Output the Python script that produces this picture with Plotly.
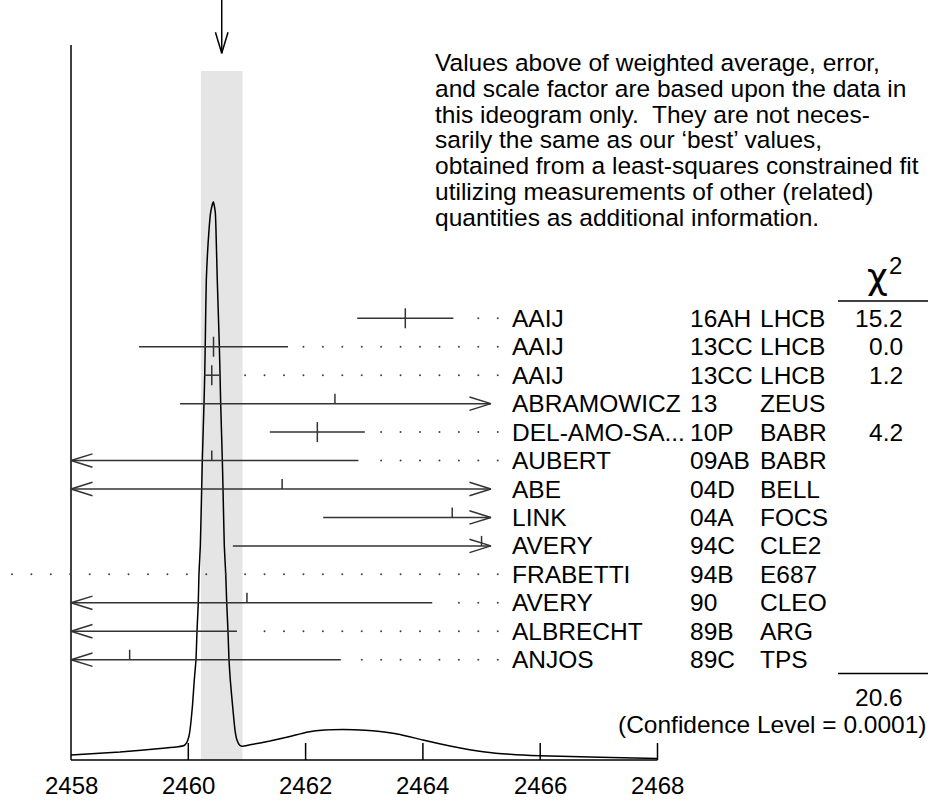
import plotly.graph_objects as go

# ---------------- data ----------------
names = ["AAIJ", "AAIJ", "AAIJ", "ABRAMOWICZ", "DEL-AMO-SA...", "AUBERT", "ABE",
         "LINK", "AVERY", "FRABETTI", "AVERY", "ALBRECHT", "ANJOS"]
refs = ["16AH", "13CC", "13CC", "13", "10P", "09AB", "04D",
        "04A", "94C", "94B", "90", "89B", "89C"]
expts = ["LHCB", "LHCB", "LHCB", "ZEUS", "BABR", "BABR", "BELL",
         "FOCS", "CLE2", "E687", "CLEO", "ARG", "TPS"]
chi2 = ["15.2", "0.0", "1.2", "", "4.2", "", "", "", "", "", "", "", ""]
values = [2463.7, 2460.43, 2460.40, 2462.5, 2462.2, 2460.4, 2461.6,
          2464.5, 2465.0, 2453.0, 2461.0, 2455.0, 2459.0]
err_minus = [0.82, 1.27, 0.13, 2.64, 0.81, 2.5, 3.9, 2.2, 4.24, 3.6, 3.16, 5.83, 3.6]
err_plus = [0.82, 1.27, 0.13, 2.73, 0.81, 2.5, 3.9, 2.2, 4.24, 3.6, 3.16, 5.83, 3.6]
chi2_total = "20.6"
conf_level = "(Confidence Level = 0.0001)"
avg = 2460.57
avg_err = 0.355

x_ticks = [2458, 2460, 2462, 2464, 2466, 2468]

# ideogram curve (relative height, peak = 1)
curve_x = [2458.000, 2458.835, 2459.569, 2459.824, 2459.927, 2459.978, 2460.012, 2460.029,
           2460.072, 2460.102, 2460.131, 2460.148, 2460.170, 2460.182, 2460.205, 2460.228,
           2460.239, 2460.268, 2460.280, 2460.290, 2460.307, 2460.353, 2460.382, 2460.426,
           2460.460, 2460.472, 2460.494, 2460.529, 2460.541, 2460.552, 2460.580, 2460.592,
           2460.614, 2460.638, 2460.655, 2460.677, 2460.694, 2460.716, 2460.754, 2460.796,
           2460.830, 2460.873, 2460.916, 2461.052, 2461.393, 2461.734, 2462.041, 2462.331,
           2462.638, 2463.013, 2463.269, 2463.610, 2464.002, 2464.462, 2465.059, 2465.485,
           2465.997, 2467.020, 2468.000]
curve_y = [0.0090, 0.0143, 0.0210, 0.0236, 0.0260, 0.0322, 0.0430, 0.0537,
           0.0985, 0.1433, 0.1791, 0.2298, 0.2812, 0.3332, 0.3833, 0.4854,
           0.5373, 0.6394, 0.6896, 0.7523, 0.8598, 0.9493, 0.9815, 1.0000,
           0.9815, 0.9493, 0.8598, 0.7421, 0.6908, 0.6394, 0.5373, 0.4854,
           0.3833, 0.3332, 0.2812, 0.2298, 0.1791, 0.1433, 0.0985, 0.0537,
           0.0358, 0.0269, 0.0245, 0.0272, 0.0340, 0.0421, 0.0502, 0.0537,
           0.0546, 0.0534, 0.0510, 0.0457, 0.0358, 0.0251, 0.0143, 0.0102,
           0.0075, 0.0048, 0.0027]

note = ["Values above of weighted average, error,",
        "and scale factor are based upon the data in",
        "this ideogram only.  They are not neces-",
        "sarily the same as our \u2018best\u2019 values,",
        "obtained from a least-squares constrained fit",
        "utilizing measurements of other (related)",
        "quantities as additional information."]

# ---------------- layout constants ----------------
W, H = 930, 800
PX_PER_X = 58.65
X0_PX = 71.0
x_range = [2458 - X0_PX / PX_PER_X, 2458 + (W - X0_PX) / PX_PER_X]
BASE_PX, PEAK_PX = 760.0, 201.7
y_scale = BASE_PX - PEAK_PX
y_range = [-(H - BASE_PX) / y_scale, BASE_PX / y_scale]
ROW0_PX, ROW_PX = 318.3, 28.45
y2_range = [(H - ROW0_PX) / ROW_PX, -ROW0_PX / ROW_PX]

x_lo, x_hi = 2458.0, 2465.16
dot_last, dot_step = 2465.276, 0.3313
dot_gap = 0.17
arrow_len, arrow_half = 21.5 / PX_PER_X, 6.7 / ROW_PX
tick_half = 10.0 / ROW_PX

FONT = "Liberation Sans, Arial, Helvetica, sans-serif"
INK = "black"
BAR = "#333333"
FS = 24.5

fig = go.Figure()

# band for weighted average
fig.add_shape(type="rect", xref="x", yref="y", x0=avg - avg_err, x1=avg + avg_err,
              y0=0, y1=(BASE_PX - 71) / y_scale, fillcolor="#e5e5e5",
              line=dict(width=0), layer="below")

# ideogram curve
fig.add_trace(go.Scatter(x=curve_x, y=curve_y, mode="lines", yaxis="y",
                         line=dict(color=INK, width=1.5, shape="spline", smoothing=0.5),
                         hoverinfo="skip"))

# axes (drawn as lines)
ax_x = [x_lo, x_lo, None, x_ticks[0], x_ticks[-1]]
ax_y = [(BASE_PX - 45) / y_scale, 0, None, 0, 0]
tick_h = 17.0 / y_scale
for t in x_ticks[1:]:
    ax_x += [None, t, t]
    ax_y += [None, 0, tick_h]
fig.add_trace(go.Scatter(x=ax_x, y=ax_y, mode="lines", yaxis="y",
                         line=dict(color=INK, width=1.5), hoverinfo="skip"))

# top arrow marking the average
top = BASE_PX / y_scale
tip = (BASE_PX - 53.3) / y_scale
arm = (BASE_PX - 32.3) / y_scale
ah = 6.3 / PX_PER_X
fig.add_trace(go.Scatter(x=[avg, avg, None, avg - ah, avg, avg + ah],
                         y=[top, tip, None, arm, tip, arm], mode="lines", yaxis="y",
                         line=dict(color=INK, width=1.5), hoverinfo="skip"))

# measurements
bx, by, dx, dy = [], [], [], []
for i, (v, em, ep) in enumerate(zip(values, err_minus, err_plus)):
    lo, hi = v - em, v + ep
    a, b = max(lo, x_lo), min(hi, x_hi)
    line_end = -1e9
    if a < b:
        line_end = b
        bx += [a, b, None]
        by += [i, i, None]
        la, ra = lo < x_lo, hi > x_hi
        if la:
            bx += [x_lo + arrow_len, x_lo, x_lo + arrow_len, None]
            by += [i - arrow_half, i, i + arrow_half, None]
        if ra:
            bx += [x_hi - arrow_len, x_hi, x_hi - arrow_len, None]
            by += [i - arrow_half, i, i + arrow_half, None]
        if x_lo <= v <= x_hi:
            bx += [v, v, None]
            by += [i - tick_half, i if (la or ra) else i + tick_half, None]
    k = 0
    while True:
        xd = dot_last - k * dot_step
        if xd < x_range[0] or xd <= line_end + dot_gap:
            break
        dx.append(xd)
        dy.append(i)
        k += 1

fig.add_trace(go.Scatter(x=bx, y=by, mode="lines", yaxis="y2",
                         line=dict(color=BAR, width=1.5), hoverinfo="skip"))
fig.add_trace(go.Scatter(x=dx, y=dy, mode="markers", yaxis="y2",
                         marker=dict(color="#444444", size=2, line=dict(width=0)),
                         hoverinfo="skip"))


def txt(x, y, text, xanchor="left", xref="paper", yref="paper", size=FS, family=FONT):
    return dict(x=x, xref=xref, y=y, yref=yref, text=text, xanchor=xanchor,
                yanchor="middle", showarrow=False,
                font=dict(family=family, size=size, color=INK))


ann = []
for i in range(len(names)):
    ann.append(txt(509.5 / W, i, names[i], yref="y2"))
    ann.append(txt(688 / W, i, refs[i], yref="y2"))
    ann.append(txt(758 / W, i, expts[i], yref="y2"))
    if chi2[i]:
        ann.append(txt(905 / W, i, chi2[i], xanchor="right", yref="y2"))

# chi2 header and sum
ann.append(txt(877 / W, 1 - 277 / H, "\u03c7", xanchor="center", size=36,
               family="DejaVu Sans, sans-serif"))
ann.append(txt(895 / W, 1 - 265 / H, "2", xanchor="center", size=24))
fig.add_shape(type="line", xref="paper", yref="paper", x0=838 / W, x1=928 / W,
              y0=1 - 301 / H, y1=1 - 301 / H, line=dict(color=INK, width=1.3))
fig.add_shape(type="line", xref="paper", yref="paper", x0=838 / W, x1=928 / W,
              y0=1 - 673.5 / H, y1=1 - 673.5 / H, line=dict(color=INK, width=1.3))
ann.append(txt(905 / W, 1 - 697 / H, chi2_total, xanchor="right"))
ann.append(txt(929 / W, 1 - 724 / H, conf_level, xanchor="right"))

# note text
for j, line in enumerate(note):
    ann.append(txt(433 / W, 1 - (62.5 + 25.8 * j) / H, line.replace("  ", "&nbsp; ")))

# x tick labels
for t in x_ticks:
    ann.append(txt(t, 1 - 785 / H, str(t), xanchor="center", xref="x", size=24))

fig.update_layout(
    width=W, height=H, margin=dict(l=0, r=0, t=0, b=0),
    paper_bgcolor="white", plot_bgcolor="white", showlegend=False,
    xaxis=dict(range=x_range, visible=False, fixedrange=True),
    yaxis=dict(range=y_range, visible=False, fixedrange=True),
    yaxis2=dict(range=y2_range, visible=False, overlaying="y", fixedrange=True),
    annotations=ann,
)
fig.write_html("out.html", config={"displayModeBar": False},
               post_script="document.body.style.margin='0px';")
